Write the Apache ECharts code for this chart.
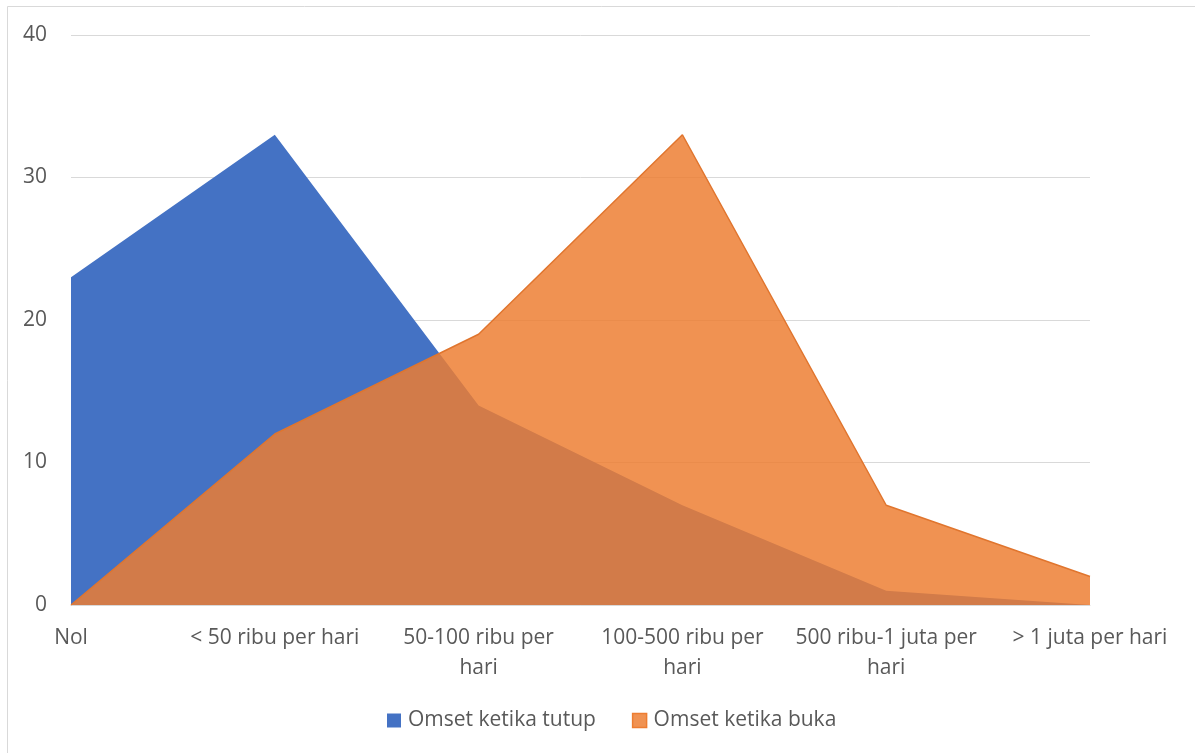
<!DOCTYPE html>
<html>
<head>
<meta charset="utf-8">
<script src="https://cdn.jsdelivr.net/npm/echarts@6/dist/echarts.min.js"></script>
<style>
html,body{margin:0;padding:0;background:#fff;}
#chart{width:1195px;height:753px;}
</style>
</head>
<body>
<div id="chart"></div>
<script>
var categories = ["Nol", "< 50 ribu per hari", "50-100 ribu per hari", "100-500 ribu per hari", "500 ribu-1 juta per hari", "> 1 juta per hari"];
var tickLabels = ["Nol", "< 50 ribu per hari", "50-100 ribu per\nhari", "100-500 ribu per\nhari", "500 ribu-1 juta per\nhari", "> 1 juta per hari"];
var seriesNames = ["Omset ketika tutup", "Omset ketika buka"];
var omsetTutup = [23, 33, 14, 7, 1, 0];
var omsetBuka = [0, 12, 19, 33, 7, 2];
var yTicks = [0, 10, 20, 30, 40];

var FONT = "'Open Sans', sans-serif";
var chart = echarts.init(document.getElementById('chart'));
chart.setOption({
  animation: false,
  backgroundColor: '#fff',
  graphic: [{
    type: 'rect',
    shape: {x: 7.5, y: 6.5, width: 1300, height: 900},
    style: {fill: 'none', stroke: '#d9d9d9', lineWidth: 1},
    silent: true
  }],
  grid: {left: 71, right: 105, top: 35, bottom: 148, containLabel: false},
  legend: {
    bottom: 17,
    left: 382,
    itemWidth: 14,
    itemHeight: 14,
    itemGap: 36,
    icon: 'rect',
    textStyle: {color: '#595959', fontSize: 21, fontFamily: FONT, padding: [0, 0, 0, 2]},
    data: [
      {name: seriesNames[0], itemStyle: {color: '#4472C4', borderWidth: 0}},
      {name: seriesNames[1], itemStyle: {color: '#F09252', borderColor: '#ED7D31', borderWidth: 1.5}}
    ]
  },
  xAxis: {
    type: 'category',
    data: categories,
    boundaryGap: false,
    axisLine: {lineStyle: {color: '#d9d9d9', width: 1}},
    axisTick: {show: false},
    axisLabel: {
      color: '#595959', fontSize: 21, fontFamily: FONT, margin: 18, lineHeight: 30,
      interval: 0,
      formatter: function (v, i) { return tickLabels[i]; }
    },
    splitLine: {show: false}
  },
  yAxis: {
    type: 'value',
    min: yTicks[0],
    max: yTicks[yTicks.length - 1],
    interval: 10,
    axisLine: {show: false},
    axisTick: {show: false},
    axisLabel: {color: '#595959', fontSize: 21, fontFamily: FONT, margin: 24},
    splitLine: {lineStyle: {color: '#d9d9d9', width: 1}}
  },
  series: [
    {
      name: seriesNames[0],
      type: 'line',
      data: omsetTutup,
      symbol: 'none',
      lineStyle: {width: 0, color: '#4472C4'},
      itemStyle: {color: '#4472C4'},
      areaStyle: {color: '#4472C4', opacity: 1},
      z: 2
    },
    {
      name: seriesNames[1],
      type: 'line',
      data: omsetBuka,
      symbol: 'none',
      lineStyle: {width: 1.5, color: '#E0752E'},
      itemStyle: {color: '#ED7D31'},
      areaStyle: {color: '#ED7D31', opacity: 0.84},
      z: 3
    }
  ]
});
</script>
</body>
</html>
